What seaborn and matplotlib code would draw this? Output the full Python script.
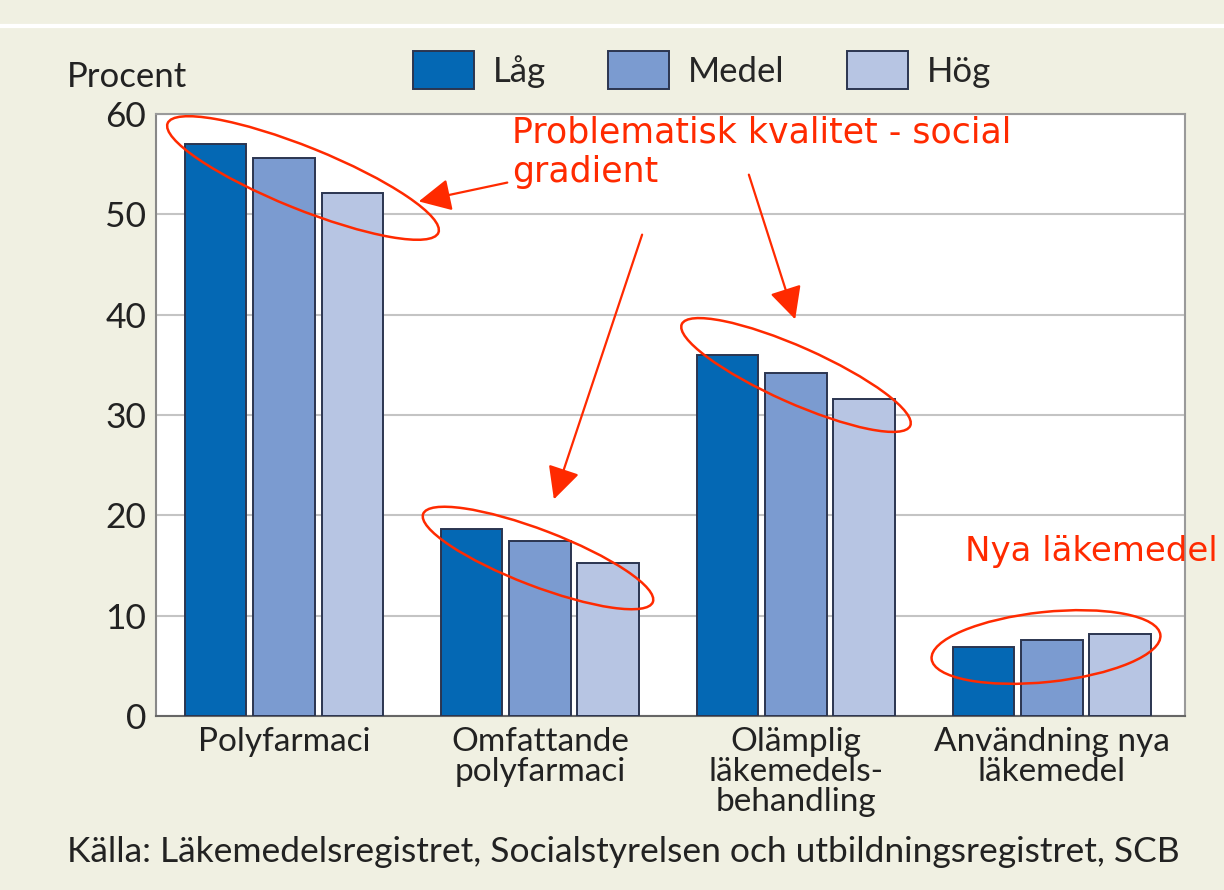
import pandas as pd
import matplotlib.pyplot as plt
import seaborn as sns
from matplotlib.patches import Ellipse, FancyArrowPatch

# Data
categories = ['Polyfarmaci', 'Omfattande\npolyfarmaci', 'Olämplig\nläkemedels-\nbehandling',
              'Användning nya\nläkemedel']
groups = ['Låg', 'Medel', 'Hög']
lag = [57.0, 18.6, 36.0, 6.9]
medel = [55.6, 17.4, 34.2, 7.6]
hog = [52.1, 15.2, 31.6, 8.2]
yticks = [0, 10, 20, 30, 40, 50, 60]

colors = ['#0468b4', '#7b9bd0', '#b7c5e3']
bg = '#f0f0e2'
red = '#ff2a00'

df = pd.DataFrame({'kategori': categories, 'Låg': lag, 'Medel': medel, 'Hög': hog})
df_long = df.melt(id_vars='kategori', var_name='grupp', value_name='procent')

sns.set_style('white')
plt.rcParams['font.family'] = ['Lato', 'DejaVu Sans']

fig = plt.figure(figsize=(12.24, 8.9), dpi=100, facecolor=bg)
ax = fig.add_axes([156 / 1224, 1 - 716 / 890, (1185 - 156) / 1224, (716 - 114) / 890])

sns.barplot(data=df_long, x='kategori', y='procent', hue='grupp', hue_order=groups,
            palette=colors, width=0.8, gap=0.1, edgecolor='#2b3550', linewidth=1.4,
            saturation=1, ax=ax, zorder=3)

ax.set_xlim(-0.5, 3.52)
ax.set_ylim(0, 60)
ax.set_yticks(yticks)
ax.set_yticklabels([str(t) for t in yticks], fontsize=25.5, color='#222222')
ax.tick_params(axis='x', labelsize=24, colors='#222222', length=0, pad=8)
ax.tick_params(axis='y', length=0, pad=7)
ax.set_xlabel('')
ax.set_ylabel('')
ax.yaxis.grid(True, color='#c4c4c4', linewidth=1.5, zorder=0)
ax.set_axisbelow(True)
for s in ax.spines.values():
    s.set_color('#9a9a9a')
    s.set_linewidth(1.5)
ax.spines['bottom'].set_color('#666666')
ax.spines['left'].set_color('#888888')
for lab in ax.get_xticklabels():
    lab.set_linespacing(1.0)

# Legend above the plot
handles, labels = ax.get_legend_handles_labels()
ax.legend(handles, labels, loc='center left', bbox_to_anchor=(413 / 1224, 1 - 70 / 890),
          bbox_transform=fig.transFigure, ncol=3, frameon=False, fontsize=25,
          borderaxespad=0, borderpad=0,
          handlelength=1.75, handleheight=1.3, handletextpad=0.55, columnspacing=1.8)

fig.text(67 / 1224, 1 - 77 / 890, 'Procent', fontsize=25, color='#222222', va='center')
fig.text(67 / 1224, 1 - 852 / 890,
         'Källa: Läkemedelsregistret, Socialstyrelsen och utbildningsregistret, SCB',
         fontsize=25.5, color='#222222', va='center')
fig.add_artist(plt.Line2D([0, 1], [1 - 26 / 890, 1 - 26 / 890], transform=fig.transFigure,
                          color='white', linewidth=3))

# Red annotations (positions in pixels -> inches)
def px(x, y):
    return (x / 100, (890 - y) / 100)

for (cx, cy, w, h, ang) in [(303, 178, 292, 62, -22), (538, 558, 246, 56, -21),
                             (796, 375, 250, 56, -24), (1046, 647, 230, 70, 6)]:
    fig.add_artist(Ellipse(px(cx, cy), w / 100, h / 100, angle=ang, fill=False,
                           edgecolor=red, linewidth=1.8, transform=fig.dpi_scale_trans))

for (x0, y0, x1, y1) in [(510, 182, 416, 202), (643, 232, 553, 502), (748, 172, 796, 322)]:
    fig.add_artist(FancyArrowPatch(px(x0, y0), px(x1, y1), transform=fig.dpi_scale_trans,
                                   arrowstyle='-|>,head_length=10,head_width=5',
                                   color=red, linewidth=1.6, mutation_scale=2))

fig.text(512 / 1224, 1 - 152 / 890, 'Problematisk kvalitet - social\ngradient',
         fontsize=25, color=red, va='center', linespacing=1.2,
         family=['DejaVu Sans'])
fig.text(965 / 1224, 1 - 551 / 890, 'Nya läkemedel', fontsize=24.5, color=red,
         va='center', family=['DejaVu Sans'])

fig.savefig('out.png', dpi=100, facecolor=bg)
